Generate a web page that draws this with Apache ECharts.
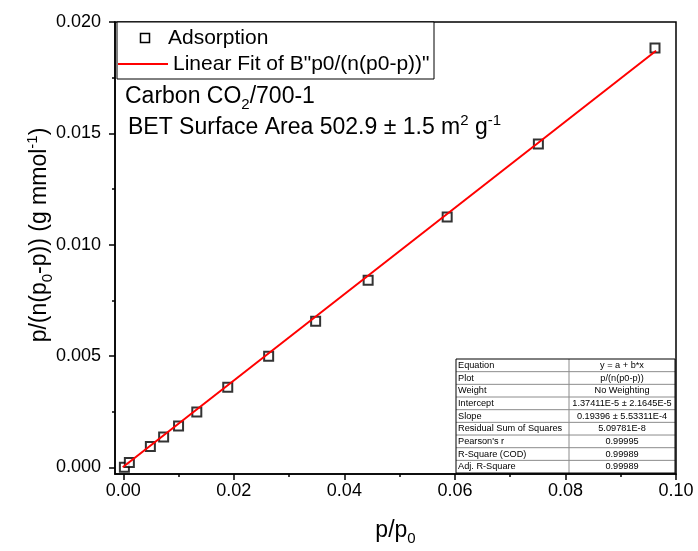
<!DOCTYPE html>
<html>
<head>
<meta charset="utf-8">
<script src="https://cdn.jsdelivr.net/npm/echarts@6/dist/echarts.min.js"></script>
<style>
  html, body { margin: 0; padding: 0; background: #fff; }
  #main { width: 698px; height: 551px; }
</style>
</head>
<body>
<div id="main"></div>
<script>
"use strict";

// measured points (p/p0 vs p/(n(p0-p)))
const pRatio = [0.0002, 0.0011, 0.0049, 0.0073, 0.0100, 0.0133, 0.0189, 0.0263, 0.0348, 0.0443, 0.0586, 0.0751, 0.0962];
const betY = [0.00000, 0.00022, 0.00093, 0.00136, 0.00186, 0.00249, 0.00360, 0.00499, 0.00656, 0.00840, 0.01124, 0.01452, 0.01883];

// ends of the fitted line
const fitX = [-0.0001, 0.0964];
const fitY = [0.0000, 0.01871];

const xTicks = [0, 0.02, 0.04, 0.06, 0.08, 0.10];
const xMinorTicks = [0.01, 0.03, 0.05, 0.07, 0.09];
const yTicks = [0, 0.005, 0.010, 0.015, 0.020];
const yMinorTicks = [0.0025, 0.0075, 0.0125, 0.0175];

const tableLabels = ["Equation", "Plot", "Weight", "Intercept", "Slope", "Residual Sum of Squares", "Pearson's r", "R-Square (COD)", "Adj. R-Square"];
const tableValues = ["y = a + b*x", "p/(n(p0-p))", "No Weighting", "1.37411E-5 \u00b1 2.1645E-5", "0.19396 \u00b1 5.53311E-4", "5.09781E-8", "0.99995", "0.99989", "0.99989"];

const legendNames = ["Adsorption", 'Linear Fit of B"p0/(n(p0-p))"'];
const font = "Liberation Sans";

let chartDom = document.getElementById("main");
let myChart = echarts.init(chartDom);

// little fit-report table in the lower right
const tbl = { left: 456, mid: 569, right: 675, top: 359, rowH: 12.67 };
let tableItems = [];
tableLabels.forEach((lab, i) => {
  let y = tbl.top + i * tbl.rowH;
  if (i > 0) {
    tableItems.push({
      type: "line",
      shape: { x1: tbl.left, y1: y, x2: tbl.right, y2: y },
      style: { stroke: "#8c8c8c", lineWidth: 1 },
    });
  }
  tableItems.push({
    type: "text",
    x: tbl.left + 2,
    y: y + tbl.rowH / 2,
    style: { text: lab, fontSize: 9.2, fontFamily: font, fill: "#000", verticalAlign: "middle" },
  });
  tableItems.push({
    type: "text",
    x: (tbl.mid + tbl.right) / 2,
    y: y + tbl.rowH / 2,
    style: { text: tableValues[i], fontSize: 9.2, fontFamily: font, fill: "#000", align: "center", verticalAlign: "middle" },
  });
});
const tblBottom = tbl.top + tableLabels.length * tbl.rowH;
tableItems.push({
  type: "line",
  shape: { x1: tbl.mid, y1: tbl.top, x2: tbl.mid, y2: tblBottom },
  style: { stroke: "#8c8c8c", lineWidth: 1 },
});
tableItems.push({
  type: "rect",
  shape: { x: tbl.left, y: tbl.top, width: tbl.right - tbl.left, height: tblBottom - tbl.top },
  style: { fill: "none", stroke: "#000", lineWidth: 1 },
});

// legend box drawn by hand (square marker + red line sample)
const legendItems = [
  {
    type: "rect",
    shape: { x: 117, y: 22, width: 317, height: 57 },
    style: { fill: "#fff", stroke: "#000", lineWidth: 1 },
  },
  {
    type: "rect",
    shape: { x: 140.5, y: 33.5, width: 9, height: 9 },
    style: { fill: "none", stroke: "#000", lineWidth: 1.5 },
  },
  {
    type: "text",
    x: 168,
    y: 38,
    style: { text: legendNames[0], fontSize: 21, fontFamily: font, fill: "#000", verticalAlign: "middle" },
  },
  {
    type: "line",
    shape: { x1: 118, y1: 64, x2: 168, y2: 64 },
    style: { stroke: "#ff0000", lineWidth: 2 },
  },
  {
    type: "text",
    x: 173,
    y: 64,
    style: { text: legendNames[1], fontSize: 21, fontFamily: font, fill: "#000", verticalAlign: "middle" },
  },
];

const subRich = {
  sub: { fontSize: 15, fontFamily: font, lineHeight: 12, verticalAlign: "bottom" },
  sup: { fontSize: 15, fontFamily: font, lineHeight: 14, verticalAlign: "top" },
  n: { fontSize: 23, fontFamily: font, lineHeight: 30 },
};

let option = {
  animation: false,
  backgroundColor: "#fff",
  grid: {
    left: 115,
    right: 22,
    top: 22,
    bottom: 77,
    show: true,
    borderColor: "#000",
    borderWidth: 1.5,
  },
  xAxis: [
    {
      type: "value",
      min: -0.0015,
      max: 0.1,
      name: "p/p{s|0}",
      nameLocation: "middle",
      nameGap: 42,
      nameMoveOverlap: false,
      nameTextStyle: {
        fontSize: 23,
        fontFamily: font,
        color: "#000",
        lineHeight: 30,
        rich: {
          s: { fontSize: 15, fontFamily: font, lineHeight: 12, verticalAlign: "bottom" },
        },
      },
      axisLine: { show: true, onZero: false, lineStyle: { color: "#000", width: 1.5 } },
      axisTick: { show: true, length: 6, customValues: xTicks, lineStyle: { color: "#000", width: 1.5 } },
      axisLabel: {
        customValues: xTicks,
        margin: 8,
        fontSize: 18,
        fontFamily: font,
        color: "#000",
        formatter: (v) => v.toFixed(2),
      },
      splitLine: { show: false },
    },
    {
      type: "value",
      min: -0.0015,
      max: 0.1,
      position: "bottom",
      axisLine: { show: false, onZero: false },
      axisTick: { show: true, length: 3, customValues: xMinorTicks, lineStyle: { color: "#000", width: 1.5 } },
      axisLabel: { show: false },
      splitLine: { show: false },
    },
  ],
  yAxis: [
    {
      type: "value",
      min: -0.0003,
      max: 0.02,
      name: "p/(n(p{s|0}-p)) (g mmol{u|-1})",
      nameLocation: "middle",
      nameRotate: 90,
      nameGap: 60,
      nameMoveOverlap: false,
      nameTextStyle: {
        fontSize: 23,
        fontFamily: font,
        color: "#000",
        lineHeight: 30,
        padding: [0, 0, 0, 26],
        rich: {
          s: { fontSize: 15, fontFamily: font, lineHeight: 12, verticalAlign: "bottom" },
          u: { fontSize: 15, fontFamily: font, lineHeight: 14, verticalAlign: "top" },
        },
      },
      axisLine: { show: true, onZero: false, lineStyle: { color: "#000", width: 1.5 } },
      axisTick: { show: true, length: 6, customValues: yTicks, lineStyle: { color: "#000", width: 1.5 } },
      axisLabel: {
        customValues: yTicks,
        margin: 14,
        fontSize: 18,
        fontFamily: font,
        color: "#000",
        formatter: (v) => v.toFixed(3),
      },
      splitLine: { show: false },
    },
    {
      type: "value",
      min: -0.0003,
      max: 0.02,
      position: "left",
      axisLine: { show: false, onZero: false },
      axisTick: { show: true, length: 3, customValues: yMinorTicks, lineStyle: { color: "#000", width: 1.5 } },
      axisLabel: { show: false },
      splitLine: { show: false },
    },
  ],
  graphic: [
    {
      type: "group",
      children: legendItems,
    },
    {
      type: "text",
      x: 125,
      y: 97,
      style: {
        text: "{n|Carbon CO}{sub|2}{n|/700-1}",
        rich: subRich,
        fill: "#000",
        verticalAlign: "middle",
      },
    },
    {
      type: "text",
      x: 128,
      y: 128,
      style: {
        text: "{n|BET Surface Area 502.9 \u00b1 1.5 m}{sup|2}{n| g}{sup|-1}",
        rich: subRich,
        fill: "#000",
        verticalAlign: "middle",
      },
    },
    {
      type: "group",
      children: tableItems,
    },
  ],
  series: [
    {
      name: legendNames[0],
      type: "scatter",
      data: pRatio.map((x, i) => [x, betY[i]]),
      symbol: "emptyRect",
      symbolSize: 9,
      itemStyle: { color: "#000", borderColor: "#000", borderWidth: 1.5 },
      z: 2,
    },
    {
      name: legendNames[1],
      type: "line",
      data: fitX.map((x, i) => [x, fitY[i]]),
      showSymbol: false,
      symbol: "none",
      lineStyle: { color: "#ff0000", width: 2 },
      itemStyle: { color: "#ff0000" },
      z: 3,
    },
  ],
};

option && myChart.setOption(option);
</script>
</body>
</html>
